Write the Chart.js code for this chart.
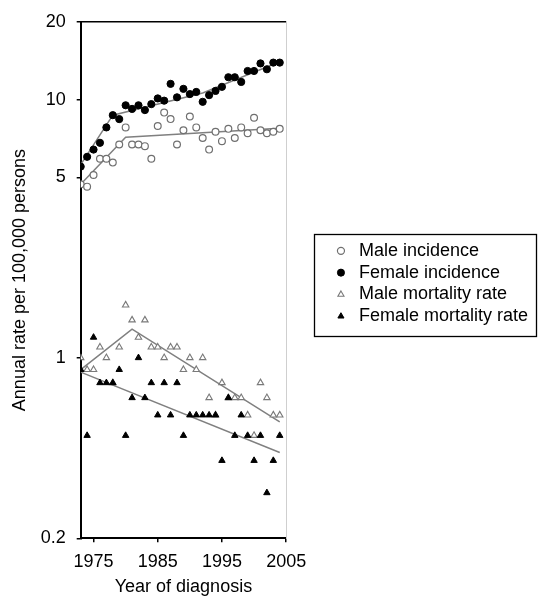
<!DOCTYPE html>
<html>
<head>
<meta charset="utf-8">
<script src="https://cdn.jsdelivr.net/npm/chart.js@4.4.1/dist/chart.umd.min.js"></script>
<style>
  html, body { margin: 0; padding: 0; background: #fff; }
</style>
</head>
<body>
<canvas id="grafico" width="538" height="598"></canvas>
<script>
// datos (tasa anual por 100.000 personas)
const anios = [1973, 1974, 1975, 1976, 1977, 1978, 1979, 1980, 1981, 1982, 1983, 1984, 1985, 1986, 1987, 1988,
               1989, 1990, 1991, 1992, 1993, 1994, 1995, 1996, 1997, 1998, 1999, 2000, 2001, 2002, 2003, 2004];

const incidenciaHombres = [4.7, 4.6, 5.1, 5.9, 5.9, 5.7, 6.7, 7.8, 6.7, 6.7, 6.6, 5.9, 7.9, 8.9, 8.4, 6.7,
                           7.6, 8.6, 7.8, 7.1, 6.4, 7.5, 6.9, 7.7, 7.1, 7.8, 7.4, 8.5, 7.6, 7.4, 7.5, 7.7];
const incidenciaMujeres = [5.5, 6.0, 6.4, 6.8, 7.8, 8.7, 8.4, 9.5, 9.2, 9.5, 9.1, 9.6, 10.1, 9.9, 11.5, 10.2,
                           11.0, 10.5, 10.7, 9.8, 10.4, 10.8, 11.2, 12.2, 12.2, 11.7, 12.9, 12.9, 13.8, 13.1, 13.9, 13.9];
const mortalidadHombres = [1.0, 0.9, 0.9, 1.1, 1.0, 0.8, 1.1, 1.6, 1.4, 1.2, 1.4, 1.1, 1.1, 1.0, 1.1, 1.1,
                           0.9, 1.0, 0.9, 1.0, 0.7, 0.6, 0.8, 0.7, 0.7, 0.7, 0.6, 0.5, 0.8, 0.7, 0.6, 0.6];
const mortalidadMujeres = [0.9, 0.5, 1.2, 0.8, 0.8, 0.8, 0.9, 0.5, 0.7, 1.0, 0.7, 0.8, 0.6, 0.8, 0.6, 0.8,
                           0.5, 0.6, 0.6, 0.6, 0.6, 0.6, 0.4, 0.7, 0.5, 0.6, 0.5, 0.4, 0.5, 0.3, 0.4, 0.5];

// lineas de tendencia (puntos de quiebre)
const tendIncHombresAnios = [1973, 1980, 2004];
const tendIncHombres = [4.7, 7.15, 7.75];
const tendIncMujeresAnios = [1973, 1978, 1992, 2004];
const tendIncMujeres = [5.6, 8.7, 10.6, 14.0];
const tendMortHombresAnios = [1973, 1981, 2004];
const tendMortHombres = [0.9, 1.29, 0.565];
const tendMortMujeresAnios = [1973, 2004];
const tendMortMujeres = [0.88, 0.43];

const ticksX = [1975, 1985, 1995, 2005];
const ticksY = [0.2, 1, 5, 10, 20];

const etiquetas = ['Male incidence', 'Female incidence', 'Male mortality rate', 'Female mortality rate'];

function puntos(xs, ys) {
  return xs.map((x, i) => ({ x: x, y: ys[i] }));
}

Chart.defaults.font.family = "'Liberation Sans', Arial, sans-serif";
Chart.defaults.color = '#000';

// recuadro alrededor de la leyenda
const cajaLeyenda = {
  id: 'cajaLeyenda',
  afterDraw(chart) {
    const lg = chart.legend;
    if (!lg || !lg.legendHitBoxes || !lg.legendHitBoxes.length) return;
    const hb = lg.legendHitBoxes;
    const primero = hb[0], ultimo = hb[hb.length - 1];
    const x0 = Math.round(lg.left - 14) + 0.5;
    const y0 = Math.round(primero.top - 8) + 0.5;
    const x1 = chart.width - 1.5;
    const y1 = Math.round(ultimo.top + ultimo.height + 11) + 0.5;
    const ctx = chart.ctx;
    ctx.save();
    ctx.strokeStyle = '#000';
    ctx.lineWidth = 1.3;
    ctx.strokeRect(x0, y0, x1 - x0, y1 - y0);
    ctx.restore();
  }
};

const ejeGrid = { display: true, drawOnChartArea: false, drawTicks: true, tickLength: 4, color: '#000', lineWidth: 1.5 };

new Chart(document.getElementById('grafico'), {
  type: 'scatter',
  data: {
    datasets: [
      {
        label: etiquetas[0], data: puntos(anios, incidenciaHombres), xAxisID: 'x', yAxisID: 'y', order: 1,
        pointStyle: 'circle', pointRadius: 3.4, backgroundColor: '#fff', borderColor: '#707070', borderWidth: 1.2
      },
      {
        label: etiquetas[1], data: puntos(anios, incidenciaMujeres), xAxisID: 'x', yAxisID: 'y', order: 1,
        pointStyle: 'circle', pointRadius: 3.6, backgroundColor: '#000', borderColor: '#000', borderWidth: 1
      },
      {
        label: etiquetas[2], data: puntos(anios, mortalidadHombres), xAxisID: 'x', yAxisID: 'y', order: 1,
        pointStyle: 'triangle', pointRadius: 3.7, backgroundColor: '#fff', borderColor: '#7a7a7a', borderWidth: 1.1
      },
      {
        label: etiquetas[3], data: puntos(anios, mortalidadMujeres), xAxisID: 'x', yAxisID: 'y', order: 0,
        pointStyle: 'triangle', pointRadius: 3.7, backgroundColor: '#000', borderColor: '#000', borderWidth: 1
      },
      { label: 'tend1', tendencia: true, data: puntos(tendIncHombresAnios, tendIncHombres), showLine: true, pointRadius: 0, borderColor: '#808080', borderWidth: 1.5, order: 2, xAxisID: 'x', yAxisID: 'y' },
      { label: 'tend2', tendencia: true, data: puntos(tendIncMujeresAnios, tendIncMujeres), showLine: true, pointRadius: 0, borderColor: '#808080', borderWidth: 1.5, order: 2, xAxisID: 'x', yAxisID: 'y' },
      { label: 'tend3', tendencia: true, data: puntos(tendMortHombresAnios, tendMortHombres), showLine: true, pointRadius: 0, borderColor: '#808080', borderWidth: 1.5, order: 2, xAxisID: 'x', yAxisID: 'y' },
      { label: 'tend4', tendencia: true, data: puntos(tendMortMujeresAnios, tendMortMujeres), showLine: true, pointRadius: 0, borderColor: '#808080', borderWidth: 1.5, order: 2, xAxisID: 'x', yAxisID: 'y' }
    ]
  },
  options: {
    responsive: false,
    animation: false,
    layout: { padding: { left: 4, top: 20, right: 0, bottom: 0 } },
    plugins: {
      tooltip: { enabled: false },
      legend: {
        position: 'right',
        fullSize: false,
        maxWidth: 260,
        title: { display: true, text: ' ', font: { size: 5 }, padding: { top: 0, bottom: 1 } },
        labels: {
          usePointStyle: true,
          boxWidth: 18,
          boxHeight: 5,
          padding: 3.8,
          color: '#000',
          font: { size: 18 },
          filter: (item, data) => !data.datasets[item.datasetIndex].tendencia,
          sort: (a, b) => a.datasetIndex - b.datasetIndex
        }
      }
    },
    scales: {
      x: {
        type: 'linear', position: 'bottom', min: 1973, max: 2005,
        afterBuildTicks: s => { s.ticks = ticksX.map(v => ({ value: v })); },
        afterFit: s => { s.height = 59.7; },
        ticks: { callback: v => String(v), font: { size: 18 }, padding: 9, maxRotation: 0, autoSkip: false, color: '#000' },
        grid: ejeGrid,
        border: { display: true, color: '#000', width: 2 },
        title: { display: true, text: 'Year of diagnosis', font: { size: 18 }, color: '#000', padding: { top: 4, bottom: 0 } }
      },
      y: {
        type: 'logarithmic', position: 'left', min: 0.2, max: 20,
        afterBuildTicks: s => { s.ticks = ticksY.map(v => ({ value: v })); },
        afterFit: s => { s.width = 76.7; },
        ticks: { callback: v => String(v), font: { size: 18 }, padding: 11, autoSkip: false, color: '#000' },
        grid: ejeGrid,
        border: { display: true, color: '#000', width: 2 },
        title: { display: true, text: 'Annual rate per 100,000 persons', font: { size: 18 }, color: '#000', padding: { top: 5, bottom: 10 } }
      },
      x2: {
        type: 'linear', position: 'top',
        ticks: { display: false },
        grid: { display: false, drawTicks: false },
        border: { display: true, color: '#000', width: 1.5 },
        afterFit: s => { s.height = 0; }
      },
      y2: {
        type: 'linear', position: 'right',
        ticks: { display: false },
        grid: { display: false, drawTicks: false },
        border: { display: true, color: '#cfcfcf', width: 1 },
        afterFit: s => { s.width = 42; }
      }
    }
  },
  plugins: [cajaLeyenda]
});
</script>
</body>
</html>
